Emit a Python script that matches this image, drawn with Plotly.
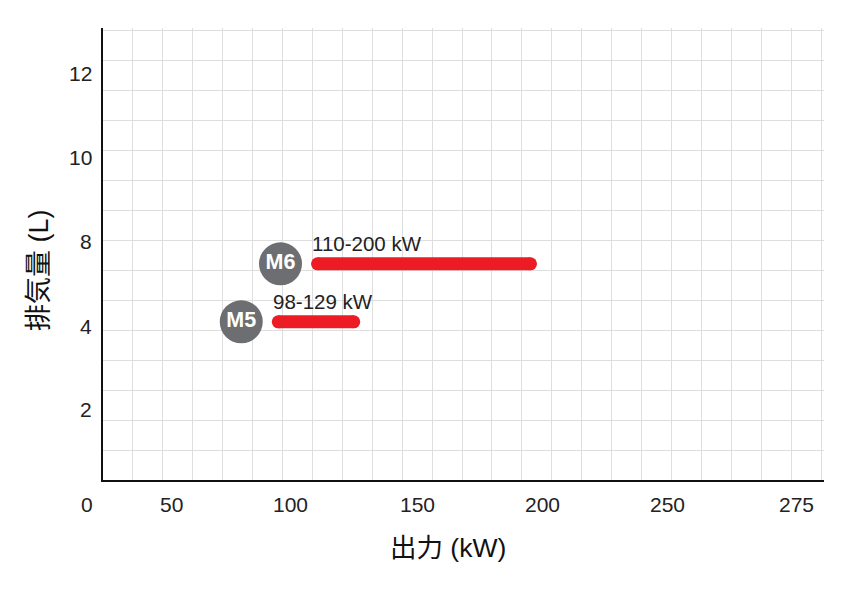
import plotly.graph_objects as go

# ---- data ----
models = ["M6", "M5"]
power_start = [111.0, 95.3]      # kW, left end of red bar
power_end = [196.2, 125.5]       # kW, right end of red bar
displacement = [5.48, 4.10]      # L
range_labels = ["110-200 kW", "98-129 kW"]

x_tick_labels = ["0", "50", "100", "150", "200", "250", "275"]
x_tick_pos = [18.8, 52.7, 100.0, 150.8, 200.8, 250.8, 302.4]
y_tick_labels = ["2", "4", "8", "10", "12"]
y_tick_pos = [2.0, 3.98, 6.02, 8.0, 10.02]

x_title = "出力 (kW)"
y_title = "排気量 (L)"

# ---- style / layout constants ----
RED = "#ed1c24"
GREY = "#6d6e71"
GRID = "#dedede"
TXT = "#222222"
NUM_FONT = "Liberation Sans, Arial, Helvetica, sans-serif"
CJK_FONT = "Liberation Sans, Noto Sans CJK JP, sans-serif"

OFF = 8  # page body offset
W, H = 842 - OFF, 595 - OFF
ML, MR, MT, MB = 103 - OFF, 18, 28 - OFF, 115
PW = W - ML - MR
PH = H - MT - MB
PX_PER_KW = 2.5
PX_PER_L = 42.0
X0 = 25.2
Y0 = 0.333
x_range = [X0, X0 + PW / PX_PER_KW]
y_range = [Y0, Y0 + PH / PX_PER_L]
CIRCLE_OFFSET = 14.8   # kW left of bar start
CAP = 2.5              # kW, half the bar thickness


def xpaper(v):
    return (v - x_range[0]) / (x_range[1] - x_range[0])


fig = go.Figure()

# red range bars (line + round end caps)
for i in range(len(models)):
    fig.add_trace(go.Scatter(
        x=[power_start[i], power_end[i]],
        y=[displacement[i], displacement[i]],
        mode="lines+markers",
        line=dict(color=RED, width=13),
        marker=dict(color=RED, size=13, line=dict(width=0)),
        hoverinfo="skip", showlegend=False, cliponaxis=False,
    ))

# grey model badges
fig.add_trace(go.Scatter(
    x=[s - CIRCLE_OFFSET for s in power_start],
    y=displacement,
    mode="markers+text",
    marker=dict(color=GREY, size=43, line=dict(width=0)),
    text=models,
    texttemplate="<b>%{text}</b>",
    textposition="middle center",
    textfont=dict(color="white", size=21.5, family=NUM_FONT),
    hoverinfo="skip", showlegend=False, cliponaxis=False,
))

annotations = []
# range labels above bars
for i in range(len(models)):
    annotations.append(dict(
        x=power_start[i] - CAP, y=displacement[i], xref="x", yref="y",
        text=range_labels[i], showarrow=False, xanchor="left", yanchor="middle",
        yshift=20.5, borderpad=0,
        font=dict(family=NUM_FONT, size=20.5, color=TXT),
    ))

# x tick labels
for v, t in zip(x_tick_pos, x_tick_labels):
    annotations.append(dict(
        x=xpaper(v), y=0, xref="paper", yref="paper", text=t, showarrow=False,
        xanchor="center", yanchor="middle", yshift=-24, borderpad=0,
        font=dict(family=NUM_FONT, size=21, color=TXT),
    ))
# y tick labels
for v, t in zip(y_tick_pos, y_tick_labels):
    annotations.append(dict(
        x=0, y=v, xref="paper", yref="y", text=t, showarrow=False,
        xanchor="right", yanchor="middle", xshift=-10, borderpad=0,
        font=dict(family=NUM_FONT, size=21, color=TXT),
    ))
# axis titles
annotations.append(dict(
    x=(448 - 103) / PW, y=0, xref="paper", yref="paper", text=x_title,
    showarrow=False, xanchor="center", yanchor="middle", yshift=-68,
    font=dict(family=CJK_FONT, size=26.5, color="#111111"),
))
annotations.append(dict(
    x=0, y=(480 - 270) / PH, xref="paper", yref="paper", text=y_title,
    showarrow=False, xanchor="center", yanchor="middle", xshift=-(103 - 39),
    textangle=-90,
    font=dict(family=CJK_FONT, size=27, color="#111111"),
))

fig.update_layout(
    width=W, height=H,
    margin=dict(l=ML, r=MR, t=MT, b=MB, pad=0),
    paper_bgcolor="white", plot_bgcolor="white",
    annotations=annotations,
    xaxis=dict(
        range=x_range, tickmode="linear", tick0=X0, dtick=(718 / 24) / PX_PER_KW,
        showgrid=True, gridcolor=GRID, gridwidth=1, zeroline=False,
        showticklabels=False, ticks="", showline=True, linecolor="#111111", linewidth=1.5,
        fixedrange=True,
    ),
    yaxis=dict(
        range=y_range, tickmode="linear", tick0=Y0, dtick=30 / PX_PER_L,
        showgrid=True, gridcolor=GRID, gridwidth=1, zeroline=False,
        showticklabels=False, ticks="", showline=True, linecolor="#111111", linewidth=1.5,
        fixedrange=True,
    ),
)

fig.write_html("out.html")
